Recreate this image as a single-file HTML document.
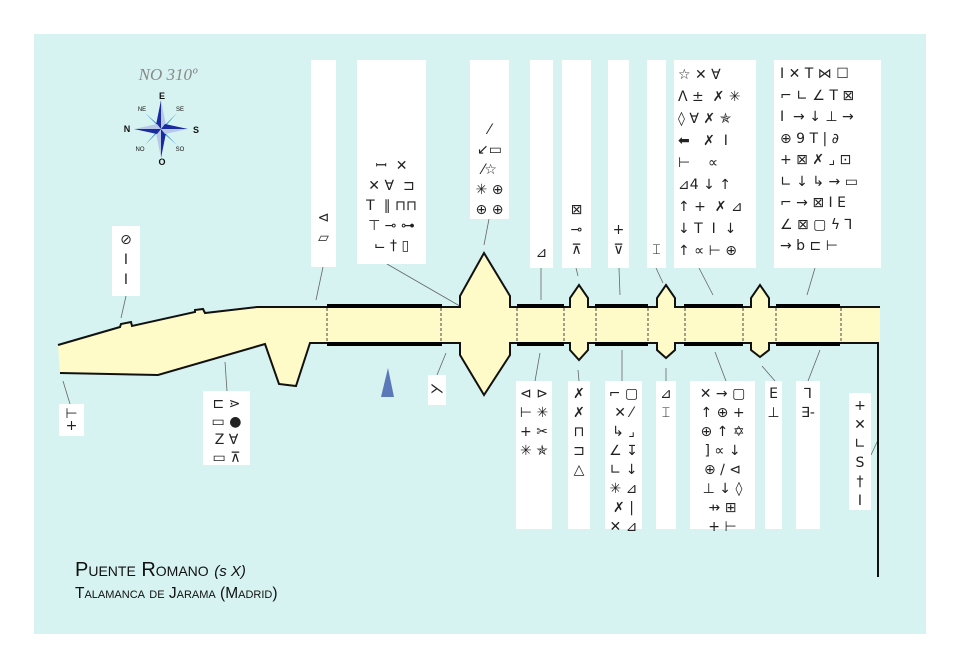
<!DOCTYPE html>
<html><head><meta charset="utf-8"><style>
body{margin:0;width:960px;height:669px;background:#fff;position:relative;overflow:hidden;font-family:"DejaVu Sans","Liberation Sans",sans-serif}
#bg{position:absolute;left:34px;top:34px;width:892px;height:600px;background:#d6f3f1}
.p{position:absolute;background:#fff;color:#222;font-size:14px;line-height:20px;text-align:center;white-space:pre;box-sizing:border-box;padding-top:4px}
svg{position:absolute;left:0;top:0}
.t{position:absolute;font-family:"Liberation Sans",sans-serif;color:#111;font-variant:small-caps}
</style></head><body>
<div id="bg"></div>
<svg width="960" height="669">
<g stroke="#666" stroke-width="0.8">
<line x1="126" y1="296" x2="121" y2="318"/>
<line x1="323" y1="267" x2="316" y2="300"/>
<line x1="387" y1="264" x2="484" y2="320"/>
<line x1="489" y1="219" x2="484" y2="245"/>
<line x1="541" y1="268" x2="541" y2="300"/>
<line x1="576" y1="268" x2="578" y2="276"/>
<line x1="619" y1="268" x2="620" y2="295"/>
<line x1="656" y1="268" x2="663" y2="283"/>
<line x1="699" y1="268" x2="713" y2="295"/>
<line x1="815" y1="268" x2="807" y2="295"/>
<line x1="63" y1="381" x2="70" y2="404"/>
<line x1="225" y1="362" x2="227" y2="391"/>
<line x1="446" y1="353" x2="437" y2="375"/>
<line x1="540" y1="353" x2="535" y2="381"/>
<line x1="578" y1="370" x2="579" y2="381"/>
<line x1="622" y1="350" x2="622" y2="381"/>
<line x1="666" y1="368" x2="666" y2="381"/>
<line x1="715" y1="352" x2="726" y2="381"/>
<line x1="762" y1="366" x2="775" y2="381"/>
<line x1="820" y1="350" x2="808" y2="381"/>
<line x1="878" y1="440" x2="871" y2="455"/>
</g>
<path d="M58,345 L120,327 L121,324 L131,322 L132,326 L195,312 L195,310 L203,309 L205,313 L257,307 L460,307 L460,296 L484,253 L510,296 L510,307 L570,307 L570,298 L579,285 L588,298 L588,307 L657,307 L657,298 L666,285 L675,298 L675,307 L751,307 L751,298 L760,285 L769,298 L769,307 L880,307 L880,343 L769,343 L769,350 L760,357 L751,350 L751,343 L675,343 L675,350 L666,358 L657,350 L657,343 L588,343 L588,350 L579,360 L570,350 L570,343 L510,343 L510,355 L484,395 L460,355 L460,343 L310,343 L296,386 L279,384 L265,344 L158,375 L60,373 Z" fill="#fffbc9" stroke="none"/>
<path d="M58,345 L120,327 L121,324 L131,322 L132,326 L195,312 L195,310 L203,309 L205,313 L257,307 L460,307 L460,296 L484,253 L510,296 L510,307 L570,307 L570,298 L579,285 L588,298 L588,307 L657,307 L657,298 L666,285 L675,298 L675,307 L751,307 L751,298 L760,285 L769,298 L769,307 L880,307" fill="none" stroke="#111" stroke-width="2"/>
<path d="M60,373 L158,375 L265,344 L279,384 L296,386 L310,343 L460,343 L460,355 L484,395 L510,355 L510,343 L570,343 L570,350 L579,360 L588,350 L588,343 L657,343 L657,350 L666,358 L675,350 L675,343 L751,343 L751,350 L760,357 L769,350 L769,343 L878,343 L878,577" fill="none" stroke="#111" stroke-width="2"/>
<g stroke="#000" stroke-width="4">
<line x1="327" y1="306" x2="442" y2="306"/><line x1="327" y1="344" x2="442" y2="344"/>
<line x1="517" y1="306" x2="564" y2="306"/><line x1="517" y1="344" x2="564" y2="344"/>
<line x1="595" y1="306" x2="648" y2="306"/><line x1="595" y1="344" x2="648" y2="344"/>
<line x1="684" y1="306" x2="743" y2="306"/><line x1="684" y1="344" x2="743" y2="344"/>
<line x1="776" y1="306" x2="840" y2="306"/><line x1="776" y1="344" x2="840" y2="344"/>
</g>
<g stroke="#444" stroke-width="1" stroke-dasharray="3,2">
<line x1="327" y1="308" x2="327" y2="342"/><line x1="441" y1="308" x2="441" y2="342"/>
<line x1="517" y1="308" x2="517" y2="342"/><line x1="564" y1="308" x2="564" y2="342"/>
<line x1="596" y1="308" x2="596" y2="342"/><line x1="648" y1="308" x2="648" y2="342"/>
<line x1="685" y1="308" x2="685" y2="342"/><line x1="743" y1="308" x2="743" y2="342"/>
<line x1="776" y1="308" x2="776" y2="342"/><line x1="841" y1="308" x2="841" y2="342"/>
</g>
<polygon points="381,397 388,368 394,397" fill="#5b78b8"/>
<text x="168" y="80" font-family="Liberation Serif,serif" font-style="italic" font-size="17" fill="#888" text-anchor="middle">NO 310º</text>
<g transform="translate(161,129)">
<polygon points="0,0 -16,-16 -4,-4" fill="#3ab0e8"/><polygon points="0,0 16,-16 4,-4" fill="#3ab0e8"/>
<polygon points="0,0 -16,16 -4,4" fill="#3ab0e8"/><polygon points="0,0 16,16 4,4" fill="#3ab0e8"/>
<polygon points="-5,-5 -16,-16 0,-2" fill="#2a8fd0"/><polygon points="5,-5 16,-16 2,0" fill="#2a8fd0"/>
<polygon points="-5,5 -16,16 -2,0" fill="#2a8fd0"/><polygon points="5,5 16,16 0,2" fill="#2a8fd0"/>
<polygon points="0,-29 -5,-4 0,0" fill="#1a2aa0"/><polygon points="0,-29 5,-4 0,0" fill="#b8c8e8"/>
<polygon points="0,29 5,4 0,0" fill="#1a2aa0"/><polygon points="0,29 -5,4 0,0" fill="#b8c8e8"/>
<polygon points="-27,0 -4,5 0,0" fill="#1a2aa0"/><polygon points="-27,0 -4,-5 0,0" fill="#b8c8e8"/>
<polygon points="27,0 4,-5 0,0" fill="#1a2aa0"/><polygon points="27,0 4,5 0,0" fill="#b8c8e8"/>
</g>
<g font-family="Liberation Sans,sans-serif" fill="#111" text-anchor="middle">
<text x="162" y="99" font-size="9" font-weight="bold">E</text>
<text x="162" y="165" font-size="9" font-weight="bold">O</text>
<text x="127" y="132" font-size="9" font-weight="bold">N</text>
<text x="196" y="133" font-size="9" font-weight="bold">S</text>
<text x="142" y="111" font-size="6">NE</text><text x="180" y="111" font-size="6">SE</text>
<text x="140" y="151" font-size="6">NO</text><text x="180" y="151" font-size="6">SO</text>
</g>
</svg>
<div class="p" style="left:112px;top:226px;width:28px;height:70px">⊘
Ⅰ
I</div>
<div class="p" style="left:311px;top:60px;width:25px;height:207px;padding-top:148px">⊲
▱</div>
<div class="p" style="left:357px;top:60px;width:69px;height:204px;padding-top:96px">ꟷ  ✕
✕ ∀  ⊐
T  ∥ ⊓⊓
⊤ ⊸ ⊶
⌙ † ▯</div>
<div class="p" style="left:470px;top:60px;width:39px;height:159px;padding-top:60px">⁄
↙▭
⁄☆
✳ ⊕
⊕ ⊕</div>
<div class="p" style="left:530px;top:60px;width:23px;height:208px;padding-top:183px">⊿</div>
<div class="p" style="left:562px;top:60px;width:29px;height:208px;padding-top:140px">⊠
⊸
⊼</div>
<div class="p" style="left:608px;top:60px;width:21px;height:208px;padding-top:160px">+
⊽</div>
<div class="p" style="left:647px;top:60px;width:19px;height:208px;padding-top:180px">⌶</div>
<div class="p" style="left:674px;top:60px;width:82px;height:208px;line-height:22px;text-align:left;padding-left:4px">☆ ✕ ∀
ᐱ ±  ✗ ✳
◊ ∀ ✗ ✯
⬅   ✗  I
⊢    ∝
⊿4 ↓ ↑
↑ +  ✗ ⊿
↓ T  I  ↓
↑ ∝ ⊢ ⊕</div>
<div class="p" style="left:774px;top:60px;width:107px;height:208px;line-height:21.5px;text-align:left;padding-left:6px">I ✕ T ⋈ ☐
⌐ ∟ ∠ T ⊠
I  → ↓ ⊥ →
⊕ 9 T | ∂
+ ⊠ ✗ ⌟ ⊡
∟ ↓ ↳ → ▭
⌐ → ⊠ I E
∠ ⊠ ▢ ϟ ⅂
→ b ⊏ ⊢</div>
<div class="p" style="left:59px;top:404px;width:25px;height:32px;line-height:12px;padding-top:4px">⊢
+</div>
<div class="p" style="left:203px;top:391px;width:47px;height:74px;line-height:18px">⊏ ⋗
▭ ●
Z ∀
▭ ⊼</div>
<div class="p" style="left:428px;top:375px;width:18px;height:30px">⋋</div>
<div class="p" style="left:516px;top:381px;width:36px;height:148px;line-height:19px">⊲ ⊳
⊢ ✳
+ ✂
✳ ✯</div>
<div class="p" style="left:568px;top:381px;width:22px;height:148px;line-height:19px">✗
✗
⊓
⊐
△</div>
<div class="p" style="left:605px;top:381px;width:37px;height:148px;line-height:19px">⌐ ▢
✕ ⁄
↳ ⌟
∠ ↧
∟ ↓
✳ ⊿
✗ |
✕ ⊿</div>
<div class="p" style="left:656px;top:381px;width:20px;height:148px;line-height:19px">⊿
⌶</div>
<div class="p" style="left:690px;top:381px;width:65px;height:148px;line-height:19px">✕ → ▢
↑ ⊕ +
⊕ ↑ ✡
] ∝ ↓
⊕ ∕ ⊲
⊥ ↓ ◊
⇸ ⊞
+ ⊢</div>
<div class="p" style="left:765px;top:381px;width:17px;height:148px;line-height:19px">E
⊥</div>
<div class="p" style="left:796px;top:381px;width:24px;height:148px;line-height:19px">⅂
∃-</div>
<div class="p" style="left:849px;top:393px;width:22px;height:117px;line-height:19px">+
✕
∟
S
†
I</div>
<div class="t" style="left:75px;top:559px;font-size:20px">Puente Romano <span style="font-variant:normal;font-style:italic;font-size:15px">(s X)</span></div>
<div class="t" style="left:75px;top:585px;font-size:15.5px">Talamanca de Jarama (Madrid)</div>
</body></html>
